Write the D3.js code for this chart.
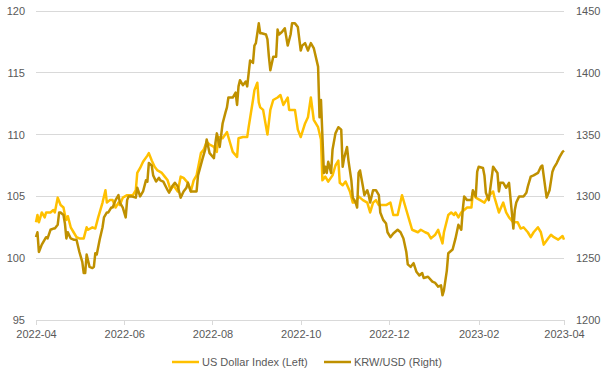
<!DOCTYPE html>
<html>
<head>
<meta charset="utf-8">
<script src="https://cdn.jsdelivr.net/npm/d3@7"></script>
<style>
  body { margin: 0; background: #fff; }
  text { font-family: "Liberation Sans", Arial, sans-serif; font-size: 11px; fill: #595959; }
</style>
</head>
<body>
<div class="card"></div>
<script>
// US Dollar Index (left axis)
var usdDates = ["2022-04-01","2022-04-02","2022-04-03","2022-04-05","2022-04-07","2022-04-08","2022-04-11","2022-04-13","2022-04-14","2022-04-16",
  "2022-04-18","2022-04-20","2022-04-21","2022-04-22","2022-04-23","2022-04-25","2022-04-27","2022-04-29","2022-05-01","2022-05-04",
  "2022-05-06","2022-05-07","2022-05-10","2022-05-12","2022-05-14","2022-05-17","2022-05-19","2022-05-20","2022-05-22","2022-05-24",
  "2022-05-26","2022-05-28","2022-05-29","2022-05-31","2022-06-03","2022-06-05","2022-06-07","2022-06-09","2022-06-10","2022-06-12",
  "2022-06-14","2022-06-17","2022-06-18","2022-06-20","2022-06-22","2022-06-24","2022-06-27","2022-06-29","2022-07-01","2022-07-03",
  "2022-07-05","2022-07-08","2022-07-10","2022-07-12","2022-07-15","2022-07-17","2022-07-19","2022-07-21","2022-07-24","2022-07-26",
  "2022-07-28","2022-07-30","2022-08-02","2022-08-04","2022-08-05","2022-08-08","2022-08-11","2022-08-13","2022-08-15","2022-08-18",
  "2022-08-19","2022-08-22","2022-08-25","2022-08-26","2022-08-29","2022-08-30","2022-09-01","2022-09-02","2022-09-03","2022-09-05",
  "2022-09-08","2022-09-10","2022-09-12","2022-09-15","2022-09-17","2022-09-19","2022-09-22","2022-09-23","2022-09-25","2022-09-27",
  "2022-09-29","2022-10-01","2022-10-04","2022-10-06","2022-10-08","2022-10-10","2022-10-13","2022-10-15","2022-10-16","2022-10-18",
  "2022-10-20","2022-10-23","2022-10-25","2022-10-27","2022-10-28","2022-10-30","2022-11-01","2022-11-04","2022-11-06","2022-11-08",
  "2022-11-10","2022-11-13","2022-11-16","2022-11-18","2022-11-20","2022-11-22","2022-11-24","2022-11-29","2022-12-02","2022-12-04",
  "2022-12-07","2022-12-10","2022-12-13","2022-12-15","2022-12-17","2022-12-21","2022-12-23","2022-12-26","2022-12-28","2022-12-30",
  "2023-01-02","2023-01-04","2023-01-07","2023-01-08","2023-01-11","2023-01-13","2023-01-15","2023-01-16","2023-01-18","2023-01-20",
  "2023-01-22","2023-01-24","2023-01-27","2023-01-28","2023-01-30","2023-02-02","2023-02-05","2023-02-07","2023-02-11","2023-02-12",
  "2023-02-15","2023-02-18","2023-02-20","2023-02-22","2023-02-25","2023-02-28","2023-03-02","2023-03-04","2023-03-07","2023-03-09",
  "2023-03-11","2023-03-14","2023-03-16","2023-03-18","2023-03-21","2023-03-23","2023-03-25","2023-03-28","2023-03-31","2023-04-01"]
var usdValues = [102.9,103.5,102.9,103.7,103.3,103.7,103.7,103.9,103.7,104.9,
  104.3,104.1,103.5,103.1,103.4,102.5,102.1,101.7,101.6,101.6,
  102.5,102.3,102.5,102.4,103.3,104.5,105.5,104.5,104.7,104.7,
  104.1,104.5,104.3,104.9,105.1,105.1,105.1,105.5,106.9,107.3,
  107.8,108.3,108.5,107.9,107.4,107.1,106.9,106.6,106.3,105.5,
  105.9,105.4,106.6,106.5,106.1,105.4,106.3,106.7,108.5,108.8,
  109.4,109.2,109.0,108.6,109.8,109.7,110.2,109.4,108.6,108.2,
  109.7,109.8,109.8,110.6,112.8,113.6,114.2,112.6,112.2,112.0,
  110.0,112.0,112.8,113.0,113.2,112.4,113.0,112.0,112.0,112.0,
  110.4,109.8,110.9,111.4,113.0,111.2,110.6,109.6,106.3,106.6,
  106.2,106.7,107.5,107.9,106.1,105.9,106.2,105.4,104.5,104.5,
  105.0,104.7,104.5,103.7,104.5,104.7,104.3,104.3,104.5,103.5,
  103.5,105.1,103.9,103.1,102.3,102.1,102.3,102.1,102.0,101.6,
  101.9,102.3,101.2,102.1,103.5,103.7,103.5,103.7,103.3,103.7,
  103.9,104.1,104.1,105.3,104.9,104.7,104.5,104.9,105.4,104.9,
  103.7,104.5,103.7,103.3,102.9,102.9,102.4,102.5,102.1,101.7,
  102.1,102.5,102.1,101.1,101.6,101.9,101.7,101.5,101.8,101.5]

// KRW/USD (right axis)
var krwDates = ["2022-04-01","2022-04-02","2022-04-03","2022-04-05","2022-04-07","2022-04-08","2022-04-09","2022-04-11","2022-04-13","2022-04-14",
  "2022-04-16","2022-04-17","2022-04-18","2022-04-20","2022-04-21","2022-04-22","2022-04-23","2022-04-25","2022-04-27","2022-04-29",
  "2022-05-01","2022-05-03","2022-05-04","2022-05-05","2022-05-06","2022-05-08","2022-05-10","2022-05-11","2022-05-12","2022-05-13",
  "2022-05-15","2022-05-17","2022-05-18","2022-05-20","2022-05-21","2022-05-23","2022-05-24","2022-05-26","2022-05-28","2022-05-29",
  "2022-05-31","2022-06-02","2022-06-03","2022-06-04","2022-06-06","2022-06-09","2022-06-10","2022-06-12","2022-06-14","2022-06-16",
  "2022-06-17","2022-06-18","2022-06-20","2022-06-21","2022-06-23","2022-06-25","2022-06-26","2022-06-28","2022-07-01","2022-07-02",
  "2022-07-04","2022-07-06","2022-07-08","2022-07-10","2022-07-12","2022-07-14","2022-07-15","2022-07-17","2022-07-19","2022-07-21",
  "2022-07-22","2022-07-25","2022-07-27","2022-07-28","2022-07-30","2022-08-02","2022-08-03","2022-08-04","2022-08-06","2022-08-08",
  "2022-08-10","2022-08-11","2022-08-12","2022-08-13","2022-08-15","2022-08-17","2022-08-18","2022-08-19","2022-08-20","2022-08-22",
  "2022-08-24","2022-08-25","2022-08-27","2022-08-29","2022-08-30","2022-08-31","2022-09-02","2022-09-03","2022-09-04","2022-09-07",
  "2022-09-08","2022-09-09","2022-09-10","2022-09-12","2022-09-14","2022-09-15","2022-09-16","2022-09-18","2022-09-20","2022-09-22",
  "2022-09-24","2022-09-25","2022-09-27","2022-09-29","2022-10-01","2022-10-02","2022-10-04","2022-10-06","2022-10-08","2022-10-10",
  "2022-10-13","2022-10-14","2022-10-15","2022-10-17","2022-10-18","2022-10-19","2022-10-20","2022-10-22","2022-10-23","2022-10-25",
  "2022-10-27","2022-10-29","2022-10-30","2022-10-31","2022-11-02","2022-11-03","2022-11-05","2022-11-06","2022-11-08","2022-11-09",
  "2022-11-10","2022-11-11","2022-11-13","2022-11-14","2022-11-16","2022-11-17","2022-11-18","2022-11-20","2022-11-22","2022-11-24",
  "2022-11-25","2022-11-27","2022-11-29","2022-11-30","2022-12-02","2022-12-04","2022-12-07","2022-12-09","2022-12-11","2022-12-13",
  "2022-12-14","2022-12-16","2022-12-18","2022-12-20","2022-12-22","2022-12-24","2022-12-25","2022-12-28","2022-12-31","2023-01-02",
  "2023-01-04","2023-01-06","2023-01-07","2023-01-08","2023-01-10","2023-01-11","2023-01-14","2023-01-16","2023-01-18","2023-01-20",
  "2023-01-21","2023-01-22","2023-01-24","2023-01-27","2023-01-28","2023-01-30","2023-01-31","2023-02-01","2023-02-04","2023-02-05",
  "2023-02-06","2023-02-08","2023-02-10","2023-02-11","2023-02-14","2023-02-15","2023-02-16","2023-02-18","2023-02-20","2023-02-22",
  "2023-02-25","2023-02-26","2023-02-27","2023-03-01","2023-03-04","2023-03-06","2023-03-07","2023-03-09","2023-03-11","2023-03-14",
  "2023-03-16","2023-03-17","2023-03-20","2023-03-22","2023-03-24","2023-03-25","2023-03-27","2023-03-29","2023-03-31","2023-04-01"]
var krwValues = [1267,1271,1255,1261,1265,1267,1266,1273,1274,1274,
  1277,1287,1287,1285,1278,1266,1271,1266,1265,1265,
  1255,1247,1238,1238,1253,1243,1242,1243,1254,1253,
  1265,1275,1283,1287,1287,1291,1291,1297,1301,1295,
  1291,1283,1297,1300,1300,1299,1307,1300,1304,1313,
  1312,1327,1325,1317,1312,1315,1313,1312,1305,1303,
  1308,1311,1308,1299,1304,1307,1311,1304,1304,1304,
  1317,1330,1338,1346,1335,1331,1343,1351,1340,1359,
  1368,1372,1380,1380,1380,1384,1374,1389,1394,1390,
  1393,1389,1410,1408,1422,1424,1440,1432,1432,1431,
  1427,1413,1402,1413,1413,1435,1431,1433,1436,1422,
  1431,1440,1440,1437,1418,1422,1424,1418,1424,1420,
  1405,1364,1378,1319,1324,1319,1328,1319,1338,1351,
  1356,1354,1324,1331,1340,1329,1313,1299,1295,1291,
  1319,1321,1308,1301,1305,1301,1295,1305,1305,1301,
  1287,1281,1278,1271,1267,1270,1273,1271,1266,1255,
  1245,1243,1246,1239,1236,1238,1234,1235,1231,1230,
  1227,1228,1220,1224,1240,1254,1257,1266,1277,1273,
  1289,1300,1297,1297,1305,1300,1320,1324,1323,1317,
  1303,1297,1315,1324,1319,1304,1311,1311,1307,1311,
  1274,1289,1295,1300,1300,1303,1308,1316,1317,1319,
  1324,1325,1299,1305,1320,1323,1327,1332,1336,1337]

var leftTicks = [95, 100, 105, 110, 115, 120]
var rightTicks = [1200, 1250, 1300, 1350, 1400, 1450]
var xTicks = ["2022-04-01","2022-06-01","2022-08-01","2022-10-01","2022-12-01","2023-02-01","2023-04-01"]
var seriesNames = ["US Dollar Index (Left)", "KRW/USD (Right)"]
var colors = ["#FFC000", "#BF9000"]

var width = 608, height = 373
var margin = {top: 11, right: 44, bottom: 53, left: 36}
var parse = d3.timeParse("%Y-%m-%d")

var svg = d3.select('.card')
  .append('svg')
  .attr('width', width)
  .attr('height', height)

var xScale = d3.scaleTime()
  .domain([parse(xTicks[0]), parse(xTicks[xTicks.length - 1])])
  .range([margin.left, width - margin.right])

var yLeft = d3.scaleLinear()
  .domain([95, 120])
  .range([height - margin.bottom, margin.top])

var yRight = d3.scaleLinear()
  .domain([1200, 1450])
  .range([height - margin.bottom, margin.top])

// gridlines
svg.append('g')
  .selectAll('line')
  .data(leftTicks.slice(1))
  .enter()
  .append('line')
  .attr('x1', margin.left)
  .attr('x2', width - margin.right)
  .attr('y1', d => yLeft(d))
  .attr('y2', d => yLeft(d))
  .attr('stroke', '#d9d9d9')
  .attr('stroke-width', 1)
  .attr('shape-rendering', 'crispEdges')

// x axis
var xAxis = d3.axisBottom(xScale)
  .tickValues(xTicks.map(parse))
  .tickFormat(d3.timeFormat("%Y-%m"))
  .tickSize(5)
  .tickPadding(5)
var xg = svg.append('g')
  .attr('transform', `translate(0, ${height - margin.bottom})`)
  .call(xAxis)
xg.select('.domain').attr('stroke', '#d9d9d9').attr('shape-rendering', 'crispEdges')
xg.selectAll('.tick line').attr('stroke', '#d9d9d9').attr('shape-rendering', 'crispEdges')
xg.selectAll('text').attr('font-size', null).attr('font-family', null)

// left axis labels
var lg = svg.append('g')
  .attr('transform', `translate(${margin.left - 11}, 0)`)
  .call(d3.axisLeft(yLeft).tickValues(leftTicks).tickSize(0).tickPadding(0))
lg.select('.domain').remove()
lg.selectAll('text').attr('font-size', null).attr('font-family', null)

// right axis labels
var rg = svg.append('g')
  .attr('transform', `translate(${width - margin.right + 12}, 0)`)
  .call(d3.axisRight(yRight).tickValues(rightTicks).tickFormat(d3.format('d')).tickSize(0).tickPadding(0))
rg.select('.domain').remove()
rg.selectAll('text').attr('font-size', null).attr('font-family', null)

// lines
var usdData = usdDates.map((d, i) => ({date: parse(d), value: usdValues[i]}))
var krwData = krwDates.map((d, i) => ({date: parse(d), value: krwValues[i]}))

var usdLine = d3.line().x(d => xScale(d.date)).y(d => yLeft(d.value))
var krwLine = d3.line().x(d => xScale(d.date)).y(d => yRight(d.value))

svg.append('path')
  .datum(usdData)
  .attr('d', usdLine)
  .attr('fill', 'none')
  .attr('stroke', colors[0])
  .attr('stroke-width', 2.5)
  .attr('stroke-linejoin', 'round')

svg.append('path')
  .datum(krwData)
  .attr('d', krwLine)
  .attr('fill', 'none')
  .attr('stroke', colors[1])
  .attr('stroke-width', 2.5)
  .attr('stroke-linejoin', 'round')

// legend
var legendX = [172, 324]
var legend = svg.append('g')
  .selectAll('g')
  .data(seriesNames)
  .enter()
  .append('g')
  .attr('transform', (d, i) => `translate(${legendX[i]}, 362)`)
legend.append('line')
  .attr('x1', 0).attr('x2', 27)
  .attr('stroke', (d, i) => colors[i])
  .attr('stroke-width', 2.5)
legend.append('text')
  .attr('x', 30)
  .attr('dy', '0.35em')
  .text(d => d)
</script>
</body>
</html>
